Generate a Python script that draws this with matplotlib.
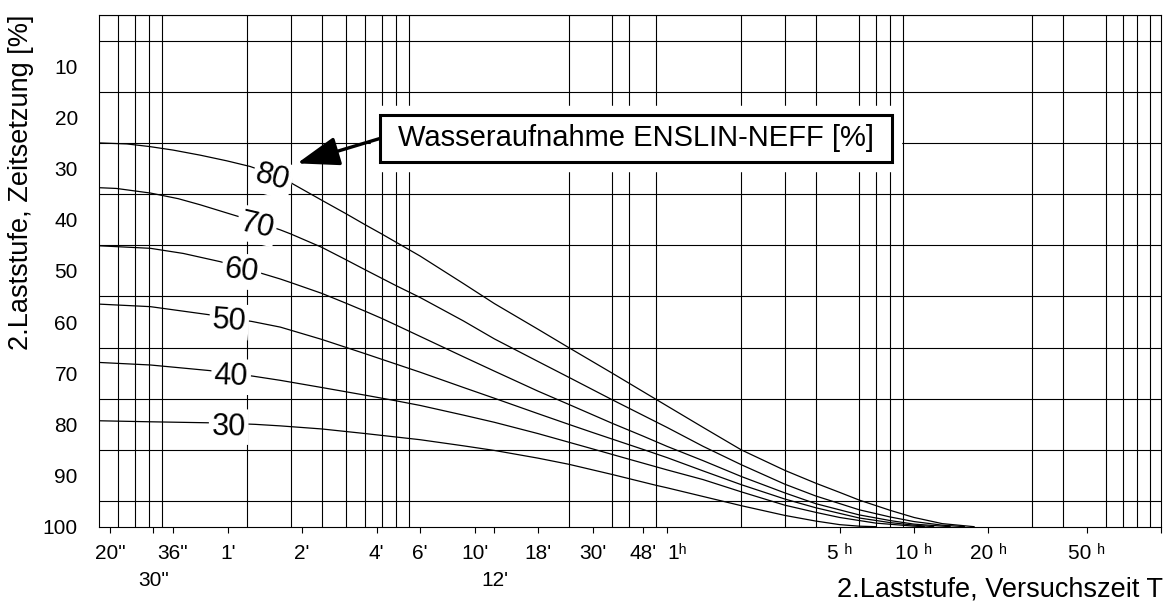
import numpy as np
import matplotlib
matplotlib.use("Agg")
import matplotlib.pyplot as plt
import matplotlib.patheffects as pe
from matplotlib.patches import Rectangle
from matplotlib.ticker import NullFormatter

# Versuchszeit in Stunden, Zeitsetzung in %
t_80 = [0.005, 0.0065, 0.008, 0.010, 0.0129, 0.0165, 0.0205, 0.0255, 0.03, 0.04, 0.05, 0.06,
        0.07, 0.1, 0.15, 0.2, 0.3, 0.4, 0.6, 1.0, 1.4, 2, 3, 4, 5, 6, 8, 10, 13, 17.5]
z_80 = [25.0, 25.2, 25.7, 26.4, 27.4, 28.5, 29.6, 31.2, 32.8, 36.2, 38.8, 41.0,
        42.8, 47.1, 52.5, 56.4, 61.4, 65.0, 70.0, 76.4, 80.6, 85.0, 89.0, 91.5, 93.3, 94.8, 96.8, 98.2, 99.4, 100.0]

t_70 = [0.005, 0.0059, 0.0081, 0.0105, 0.0129, 0.0176, 0.022, 0.0272, 0.03, 0.04, 0.05, 0.06,
        0.08, 0.1, 0.15, 0.2, 0.3, 0.4, 0.6, 1.0, 1.4, 2, 3, 4, 6, 8, 10, 13, 16]
z_70 = [33.75, 33.9, 34.8, 35.9, 37.1, 39.1, 40.5, 42.0, 42.8, 45.4, 47.8, 49.8,
        52.9, 55.2, 59.8, 63.3, 67.7, 70.8, 75.2, 80.6, 84.3, 87.9, 91.7, 94.0, 96.7, 98.1, 99.0, 99.7, 100.0]

t_60 = [0.005, 0.0081, 0.011, 0.0155, 0.019, 0.0225, 0.0272, 0.03, 0.04, 0.05, 0.06, 0.07,
        0.08, 0.1, 0.15, 0.2, 0.3, 0.4, 0.6, 0.8, 1.0, 1.4, 2, 3, 4, 6, 8, 10, 14]
z_60 = [45.1, 45.6, 46.6, 48.2, 49.4, 50.4, 51.6, 52.3, 54.4, 56.3, 57.9, 59.3,
        60.6, 62.8, 66.8, 69.6, 73.5, 76.1, 79.8, 82.3, 84.3, 87.1, 90.2, 93.4, 95.5, 97.7, 98.8, 99.5, 100.0]

t_50 = [0.005, 0.0081, 0.0141, 0.0169, 0.0209, 0.0272, 0.04, 0.06, 0.1, 0.15, 0.2, 0.3,
        0.4, 0.5, 0.8, 1.0, 1.4, 2, 3, 4, 6, 8, 10, 12]
z_50 = [56.5, 57.0, 58.6, 59.2, 59.9, 61.0, 63.4, 66.2, 69.8, 72.8, 74.9, 77.9,
        80.0, 81.6, 84.9, 86.5, 89.1, 91.8, 94.6, 96.3, 98.3, 99.2, 99.7, 100.0]

t_40 = [0.005, 0.0081, 0.0141, 0.0172, 0.0212, 0.0272, 0.04, 0.06, 0.08, 0.1, 0.15, 0.2,
        0.3, 0.5, 0.7, 1.0, 1.4, 2, 3, 4, 5, 7, 10, 11]
z_40 = [67.9, 68.4, 69.5, 70.0, 70.6, 71.4, 72.8, 74.3, 75.4, 76.3, 78.2, 79.6,
        81.8, 84.8, 86.8, 88.9, 90.8, 93.2, 95.8, 97.2, 98.2, 99.3, 99.9, 100.0]

t_30 = [0.005, 0.0081, 0.0141, 0.0168, 0.0215, 0.0272, 0.04, 0.06, 0.1, 0.15, 0.2, 0.3,
        0.4, 0.6, 0.9, 1.0, 1.4, 2, 3, 4, 5, 6, 7]
z_30 = [79.3, 79.5, 79.7, 79.8, 80.0, 80.3, 80.9, 81.8, 83.0, 84.2, 85.1, 86.6,
        87.8, 89.8, 91.9, 92.4, 94.1, 95.9, 97.8, 98.9, 99.6, 99.9, 100.0]

wasseraufnahme = [80, 70, 60, 50, 40, 30]

# Beschriftete Zeitpunkte der x-Achse (in Stunden)
x_ticks = [20 / 3600, 30 / 3600, 36 / 3600, 1 / 60, 2 / 60, 4 / 60, 6 / 60, 10 / 60, 12 / 60,
           18 / 60, 30 / 60, 48 / 60, 1, 5, 10, 20, 50, 100]
x_tick_texte = ['20"', '30"', '36"', "1'", "2'", "4'", "6'", "10'", "12'", "18'", "30'",
                "48'", "1\u02b0", "5 \u02b0", "10 \u02b0", "20 \u02b0", "50 \u02b0", ""]
y_ticks = [10, 20, 30, 40, 50, 60, 70, 80, 90, 100]


def diagramm_zeitsetzung():
    plt.rcParams['font.family'] = ['Liberation Sans', 'DejaVu Sans']

    fig = plt.figure(figsize=(11.69, 6.04), dpi=100)
    ax = fig.add_axes([0.0844, 0.128, 0.9088, 0.8472])

    kurven = [(t_80, z_80), (t_70, z_70), (t_60, z_60), (t_50, z_50), (t_40, z_40), (t_30, z_30)]
    for t, z in kurven:
        ax.plot(t, z, color='black', lw=0.9, zorder=3)

    ax.set_xscale('log')
    ax.set_xlim(0.005, 100)
    ax.set_ylim(100, 0)

    # Logarithmisches Netz in Stunden, dazu 1' und 10'
    netz_x = [k * 10.0 ** e for e in range(-3, 2) for k in range(1, 10)]
    netz_x = [v for v in netz_x if 0.005 < v < 100] + [1 / 60, 10 / 60]
    ax.set_xticks(x_ticks)
    ax.set_xticklabels(x_tick_texte)
    ax.set_xticks(netz_x, minor=True)
    ax.xaxis.set_minor_formatter(NullFormatter())
    ax.tick_params(axis='x', which='major', length=4.3, width=0.8, pad=8, labelsize=15)
    ax.tick_params(axis='x', which='minor', length=0)

    # 30" und 12' stehen in der zweiten Zeile, 1h beginnt am Strich
    ticks = ax.xaxis.get_major_ticks()
    for i in (1, 8):
        ticks[i].set_pad(27.5)
    ticks[12].label1.set_horizontalalignment('left')

    ax.set_yticks(y_ticks)
    ax.set_yticks(np.arange(0, 101, 5), minor=True)
    ax.tick_params(axis='y', which='both', length=0, pad=15, labelsize=15)

    ax.set_axisbelow(True)
    ax.grid(which='minor', color='black', lw=0.8)
    for s in ax.spines.values():
        s.set_linewidth(0.8)

    # Kurvenbeschriftungen, leicht gedreht
    label_t = [0.0255, 0.022, 0.019, 0.0169, 0.0172, 0.0168]
    label_rot = [-15, -13, -7, -4, -2, -1]
    for (t, z), w, tl, rot in zip(kurven, wasseraufnahme, label_t, label_rot):
        zl = np.interp(np.log10(tl), np.log10(t), z)
        ax.text(tl, zl, str(w), fontsize=22, rotation=rot, rotation_mode='anchor',
                ha='center', va='center_baseline', zorder=4,
                bbox=dict(facecolor='white', edgecolor='none', pad=2))

    # Kasten mit Pfeil auf die 80er Kurve
    kasten = Rectangle((0.2648, 0.7127), 0.482, 0.0919, transform=ax.transAxes,
                       facecolor='white', edgecolor='black', lw=2.2, zorder=5)
    kasten.set_path_effects([pe.withStroke(linewidth=14, foreground='white')])
    ax.add_patch(kasten)
    ax.text(0.5058, 0.7587, 'Wasseraufnahme ENSLIN-NEFF [%]', transform=ax.transAxes,
            fontsize=21, ha='center', va='center', zorder=7)
    ax.annotate('', xy=(0.0318, 29.0), xycoords='data',
                xytext=(0.2648, 0.7587), textcoords='axes fraction',
                arrowprops=dict(arrowstyle='-|>,head_length=1.3,head_width=0.45', lw=2.4,
                                color='black', shrinkA=0, shrinkB=0, mutation_scale=20),
                zorder=6)

    ax.set_ylabel('2.Laststufe, Zeitsetzung [%]', fontsize=19.5, loc='top')
    ax.yaxis.set_label_coords(-0.061, 1.0)
    ax.set_xlabel('2.Laststufe, Versuchszeit T', fontsize=19.5, loc='right')
    ax.xaxis.set_label_coords(1.002, -0.097)

    fig.savefig('out.png', dpi=100)


if __name__ == "__main__":
    diagramm_zeitsetzung()
